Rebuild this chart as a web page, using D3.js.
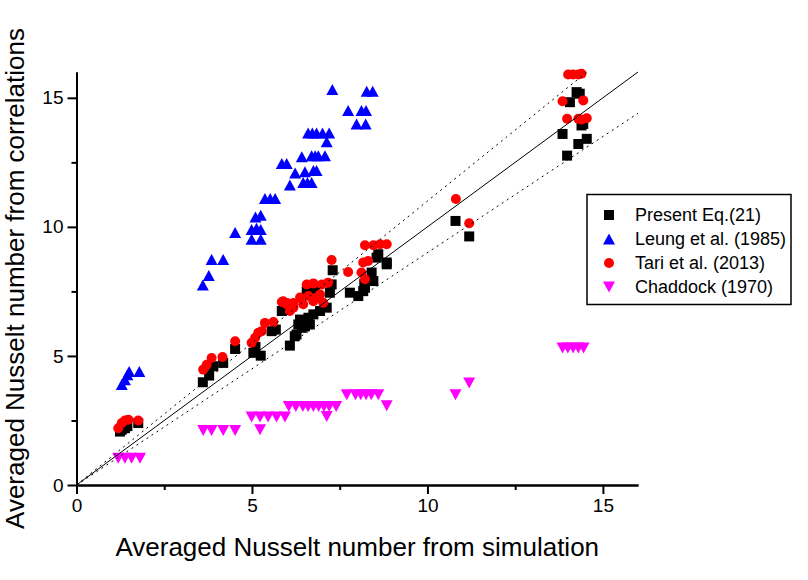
<!DOCTYPE html>
<html>
<head>
<meta charset="utf-8">
<script src="https://cdn.jsdelivr.net/npm/d3@7"></script>
<style>
  html, body { margin: 0; padding: 0; background: #fff; }
  svg { display: block; font-family: "Liberation Sans", Arial, sans-serif; }
</style>
</head>
<body>
<svg id="chart" width="808" height="580"></svg>
<script>
// ---- Data (x: simulation Nu, y: correlation Nu) ----
const present = [
  [1.24,2.07],[1.29,2.14],[1.38,2.20],[1.45,2.28],[1.76,2.40],
  [3.60,3.98],[3.78,4.24],[3.90,4.60],[4.18,4.73],[4.52,5.27],
  [5.04,5.12],[5.25,5.01],[5.10,5.35],[5.56,5.96],[5.68,6.02],[5.85,6.74],
  [6.08,5.40],[6.22,5.76],[6.27,5.83],[6.32,6.22],[6.42,6.09],[6.51,6.15],[6.65,6.22],
  [6.37,6.41],[6.61,6.48],[6.75,6.61],[6.94,6.74],[7.13,6.87],
  [6.56,7.51],[6.79,7.51],[7.22,7.45],[7.27,7.77],[7.30,8.32],
  [7.79,7.45],[8.03,7.32],[8.17,7.51],[8.22,7.64],[8.20,7.80],[8.46,7.90],[8.41,8.23],
  [8.60,8.94],[8.84,8.62],[8.55,8.81],[8.84,8.55],
  [10.80,10.23],[11.19,9.63],
  [14.25,15.22],[14.34,15.16],[14.06,14.83],[14.44,13.99],[14.39,13.93],[13.85,13.60],
  [14.30,13.21],[14.54,13.41],[13.98,12.76]
];
const leung = [
  [1.29,3.89],[1.38,4.08],[1.45,4.27],[1.50,4.40],[1.79,4.40],
  [3.60,7.75],[3.77,8.12],[3.85,8.74],[4.18,8.74],[4.52,9.78],
  [4.99,9.52],[5.25,9.52],[4.99,9.90],[5.13,9.95],[5.25,9.90],[5.10,10.38],[5.25,10.45],
  [5.37,11.10],[5.52,11.10],[5.66,11.10],
  [5.85,12.46],[5.99,12.46],[6.08,11.62],[6.46,11.72],[6.58,11.72],[6.70,11.72],
  [6.23,12.09],[6.51,12.14],[6.75,12.18],[6.84,12.18],
  [6.42,12.72],[6.70,12.76],[6.80,12.76],[6.89,12.76],[7.08,12.76],
  [6.60,13.64],[6.72,13.64],[6.84,13.64],[7.01,13.64],[7.20,13.64],[7.13,13.30],
  [7.29,15.32],[7.74,14.51],[8.12,14.51],[8.25,14.51],[7.98,13.99],[8.24,13.99],
  [8.27,15.25],[8.44,15.25]
];
const tari = [
  [1.19,2.20],[1.29,2.40],[1.38,2.50],[1.48,2.53],[1.76,2.50],
  [3.61,4.47],[3.71,4.66],[3.85,4.92],[4.16,4.96],[4.52,5.57],
  [4.99,5.51],[5.09,5.70],[5.18,5.90],[5.28,5.96],[5.37,6.28],[5.61,6.31],
  [5.85,7.09],[6.00,7.05],[6.18,7.05],[5.89,7.12],[5.99,7.00],[6.08,6.74],[6.18,6.87],
  [6.46,7.00],[6.37,7.26],[6.61,7.32],[6.75,7.12],[6.84,7.26],[6.94,7.38],[7.03,7.06],
  [6.56,7.77],[6.75,7.81],[6.99,7.77],[7.17,7.84],
  [7.27,8.72],[7.74,8.25],[8.12,8.23],[8.22,7.97],[8.17,8.62],[8.31,8.68],
  [8.22,9.29],[8.46,9.29],[8.65,9.33],[8.84,9.33],
  [10.81,11.08],[11.19,10.14],
  [14.01,15.90],[14.15,15.90],[14.30,15.90],[14.39,15.93],[13.85,14.87],[14.44,14.90],
  [13.98,14.19],[14.30,14.19],[14.39,14.16],[14.54,14.21]
];
const chaddock = [
  [1.19,1.04],[1.38,1.04],[1.57,1.04],[1.81,1.04],
  [3.61,2.11],[3.85,2.11],[4.18,2.11],[4.52,2.11],
  [4.99,2.63],[5.23,2.63],[5.46,2.63],[5.70,2.63],[5.94,2.63],[5.23,2.14],
  [6.05,3.04],[6.25,3.04],[6.45,3.04],[6.60,3.04],[6.75,3.04],[6.90,3.04],[7.05,3.04],[7.20,3.04],[7.40,3.04],[7.13,2.65],
  [7.70,3.50],[7.95,3.50],[8.10,3.50],[8.25,3.50],[8.40,3.50],[8.60,3.50],[8.84,3.07],
  [10.80,3.50],[11.19,3.95],
  [13.85,5.31],[14.00,5.31],[14.15,5.31],[14.30,5.31],[14.45,5.31]
];
const majorTicks = [0, 5, 10, 15];
const minorTicks = [2.5, 7.5, 12.5];
const refSlopes = [1.0, 1.1, 0.9]; // y = x, +10%, -10%
const legendLabels = ["Present Eq.(21)", "Leung et al. (1985)", "Tari et al. (2013)", "Chaddock (1970)"];
const xTitle = "Averaged Nusselt number from simulation";
const yTitle = "Averaged Nusselt number from correlations";

// ---- Layout ----
const svg = d3.select("#chart");
svg.append("rect").attr("width", 808).attr("height", 580).attr("fill", "#fff");

const x = d3.scaleLinear().domain([0, 16]).range([76.5, 638]);
const y = d3.scaleLinear().domain([0, 16]).range([485, 72]);

// symbols
const shapes = {
  square: "M-5,-5H5V5H-5Z",
  up: "M0,-5.5L6,5.5L-6,5.5Z",
  circle: d3.symbol().type(d3.symbolCircle).size(Math.PI * 25)(),
  down: "M0,5.5L6,-5.5L-6,-5.5Z"
};
const seriesList = [
  { data: present, shape: "square", color: "#000000" },
  { data: leung, shape: "up", color: "#0000ff" },
  { data: tari, shape: "circle", color: "#ff0000" },
  { data: chaddock, shape: "down", color: "#ff00ff" }
];

// data markers
seriesList.forEach(s => {
  svg.append("g").selectAll("path").data(s.data).join("path")
    .attr("d", shapes[s.shape])
    .attr("transform", d => `translate(${x(d[0])},${y(d[1])})`)
    .attr("fill", s.color);
});

// reference lines
refSlopes.forEach(k => {
  const xEnd = Math.min(16, 16 / k);
  svg.append("line")
    .attr("x1", x(0)).attr("y1", y(0))
    .attr("x2", x(xEnd)).attr("y2", y(k * xEnd))
    .attr("stroke", "#000")
    .attr("stroke-width", 1)
    .attr("stroke-dasharray", k === 1 ? null : "2,4");
});

// axes
function styleAxis(g) {
  g.selectAll("path.domain").attr("stroke", "#000").attr("stroke-width", 2);
  g.selectAll(".tick line").attr("stroke", "#000").attr("stroke-width", 2);
  g.selectAll(".tick text").attr("fill", "#000").style("font-size", "19px")
    .style("font-family", "'Liberation Sans', Arial, sans-serif");
}
const xAxis = svg.append("g").attr("transform", `translate(0,${y(0)})`)
  .call(d3.axisBottom(x).tickValues(majorTicks).tickSize(9).tickSizeOuter(0).tickPadding(5).tickFormat(d3.format("d")));
styleAxis(xAxis);
const xMinor = svg.append("g").attr("transform", `translate(0,${y(0)})`)
  .call(d3.axisBottom(x).tickValues(minorTicks).tickSize(5).tickSizeOuter(0).tickFormat(""));
styleAxis(xMinor);

const yAxis = svg.append("g").attr("transform", `translate(${x(0)},0)`)
  .call(d3.axisLeft(y).tickValues(majorTicks).tickSize(9).tickSizeOuter(0).tickPadding(4).tickFormat(d3.format("d")));
styleAxis(yAxis);
const yMinor = svg.append("g").attr("transform", `translate(${x(0)},0)`)
  .call(d3.axisLeft(y).tickValues(minorTicks).tickSize(5).tickSizeOuter(0).tickFormat(""));
styleAxis(yMinor);

// titles
svg.append("text")
  .attr("x", (x.range()[0] + x.range()[1]) / 2).attr("y", 556)
  .attr("text-anchor", "middle").style("font-size", "26px").attr("fill", "#000")
  .text(xTitle);
svg.append("text")
  .attr("transform", `translate(24,${(y.range()[0] + y.range()[1]) / 2}) rotate(-90)`)
  .attr("text-anchor", "middle").style("font-size", "26px").attr("fill", "#000")
  .text(yTitle);

// legend
const lg = svg.append("g");
lg.append("rect").attr("x", 587).attr("y", 194.5).attr("width", 204).attr("height", 110)
  .attr("fill", "#fff").attr("stroke", "#000").attr("stroke-width", 1.5);
seriesList.forEach((s, i) => {
  const cy = 215 + i * 24;
  lg.append("path").attr("d", shapes[s.shape])
    .attr("transform", `translate(609,${cy})`).attr("fill", s.color);
  lg.append("text").attr("x", 635).attr("y", cy).attr("dy", "0.35em")
    .style("font-size", "18px").attr("fill", "#000").text(legendLabels[i]);
});
</script>
</body>
</html>
